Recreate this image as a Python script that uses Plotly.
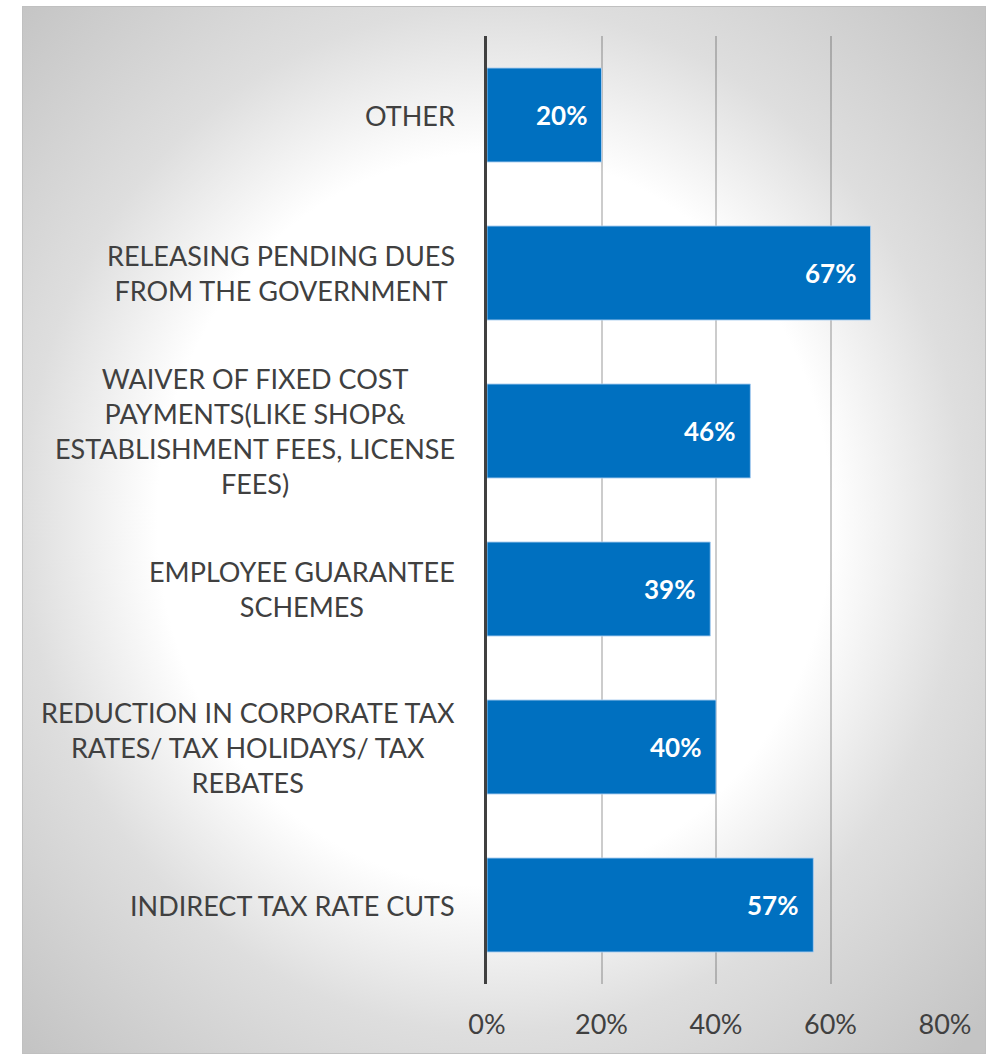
import base64
import plotly.graph_objects as go

# Survey: support measures requested from the government (share of respondents)
categories = [
    "OTHER",
    "RELEASING PENDING DUES<br>FROM THE GOVERNMENT",
    "WAIVER OF FIXED COST<br>PAYMENTS(LIKE SHOP&amp;<br>ESTABLISHMENT FEES, LICENSE<br>FEES)",
    "EMPLOYEE GUARANTEE<br>SCHEMES",
    "REDUCTION IN CORPORATE TAX<br>RATES/ TAX HOLIDAYS/ TAX<br>REBATES",
    "INDIRECT TAX RATE CUTS",
]
values = [20, 67, 46, 39, 40, 57]
tick_values = [0, 20, 40, 60, 80]
tick_labels = ["0%", "20%", "40%", "60%", "80%"]

W, H = 986, 1054
FONT = "Lato"
TEXT = "#404040"
BLUE = "#0070C0"

# Soft grey radial backdrop panel
panel_x0, panel_y0 = 22, 6
pw, ph = W - panel_x0, H - panel_y0
svg = f'''<svg xmlns="http://www.w3.org/2000/svg" width="{pw}" height="{ph}" viewBox="0 0 {pw} {ph}" preserveAspectRatio="none">
<defs><radialGradient id="g" cx="0.49" cy="0.49" r="0.7" gradientUnits="objectBoundingBox">
<stop offset="0" stop-color="#ffffff"/>
<stop offset="0.5" stop-color="#ffffff"/>
<stop offset="0.7" stop-color="#dedede"/>
<stop offset="1" stop-color="#c4c4c4"/>
</radialGradient></defs>
<rect x="0.5" y="0.5" width="{pw - 1}" height="{ph - 1}" fill="url(#g)" stroke="#c0c0c0" stroke-width="1"/>
</svg>'''
svg_uri = "data:image/svg+xml;base64," + base64.b64encode(svg.encode()).decode()

fig = go.Figure()
fig.add_trace(go.Bar(
    x=values,
    y=categories,
    orientation="h",
    width=0.595,
    marker=dict(color=BLUE, line=dict(color="rgba(170,205,240,0.9)", width=1)),
    hoverinfo="skip",
))

# Value labels inside the bar ends
for cat, v in zip(categories, values):
    fig.add_annotation(
        x=v, y=cat, xref="x", yref="y",
        text=f"<b>{v}%</b>", showarrow=False,
        xanchor="right", yanchor="middle", xshift=-13,
        font=dict(family=FONT, size=26, color="white"),
    )

# Category labels, wrapped and centred
for cat in categories:
    fig.add_annotation(
        x=457 / W, y=cat, xref="paper", yref="y",
        text=cat, showarrow=False,
        xanchor="right", yanchor="middle", align="center",
        font=dict(family=FONT, size=27, color=TEXT),
    )

fig.add_layout_image(dict(
    source=svg_uri, xref="paper", yref="paper",
    x=panel_x0 / W, y=1 - panel_y0 / H,
    sizex=pw / W, sizey=ph / H,
    xanchor="left", yanchor="top",
    sizing="stretch", layer="below",
))

fig.update_layout(
    width=W, height=H,
    margin=dict(l=0, r=0, t=0, b=0),
    paper_bgcolor="white",
    plot_bgcolor="rgba(0,0,0,0)",
    showlegend=False,
    bargap=0.4,
    xaxis=dict(
        domain=[487 / W, 945 / W],
        range=[0, 80],
        tickvals=tick_values,
        ticktext=tick_labels,
        ticks="outside", ticklen=17, tickcolor="rgba(0,0,0,0)",
        showgrid=True, gridcolor="rgba(0,0,0,0.2)", gridwidth=1.5,
        zeroline=False, showline=False,
        tickfont=dict(family=FONT, size=27, color=TEXT),
        automargin=False, fixedrange=True,
    ),
    yaxis=dict(
        domain=[1 - 984 / H, 1 - 36 / H],
        autorange="reversed",
        showticklabels=False, ticks="",
        showgrid=False, zeroline=False,
        showline=True, linecolor="#404040", linewidth=3,
        automargin=False, fixedrange=True,
    ),
)

fig.write_html("out.html")
